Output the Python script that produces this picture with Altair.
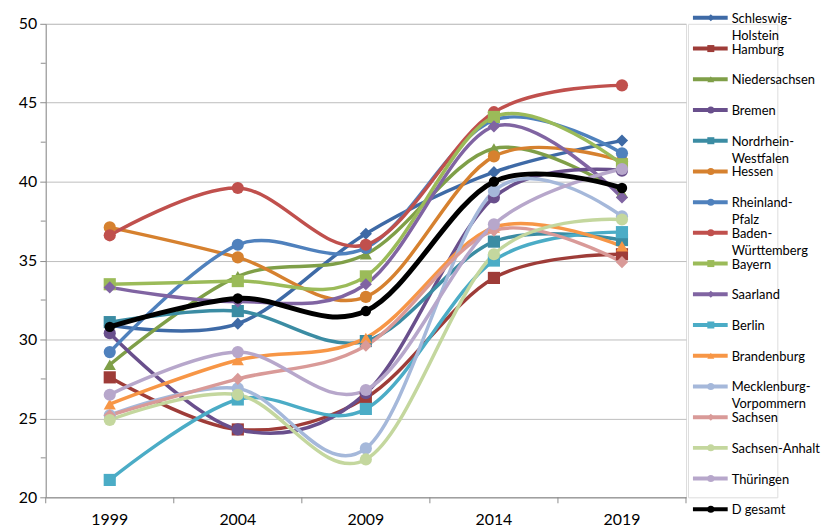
import altair as alt
import pandas as pd

years = ["1999", "2004", "2009", "2014", "2019"]

states = ["Schleswig-Holstein", "Hamburg", "Niedersachsen", "Bremen",
          "Nordrhein-Westfalen", "Hessen", "Rheinland-Pfalz", "Baden-Württemberg",
          "Bayern", "Saarland", "Berlin", "Brandenburg", "Mecklenburg-Vorpommern",
          "Sachsen", "Sachsen-Anhalt", "Thüringen", "D gesamt"]

legend_labels = ["Schleswig-\nHolstein", "Hamburg", "Niedersachsen", "Bremen",
                 "Nordrhein-\nWestfalen", "Hessen", "Rheinland-\nPfalz", "Baden-\nWürttemberg",
                 "Bayern", "Saarland", "Berlin", "Brandenburg", "Mecklenburg-\nVorpommern",
                 "Sachsen", "Sachsen-Anhalt", "Thüringen", "D gesamt"]

sh = [30.9, 31.0, 36.7, 40.6, 42.6]
hh = [27.6, 24.3, 26.3, 33.9, 35.4]
ni = [28.4, 34.0, 35.4, 42.1, 39.3]
hb = [30.4, 24.3, 26.6, 39.0, 40.7]
nw = [31.1, 31.8, 29.9, 36.2, 36.3]
he = [37.1, 35.2, 32.7, 41.6, 41.3]
rp = [29.2, 36.0, 35.8, 43.9, 41.8]
bw = [36.6, 39.6, 36.0, 44.4, 46.1]
by = [33.5, 33.7, 34.0, 44.1, 41.1]
sl = [33.3, 32.4, 33.5, 43.5, 39.0]
be = [21.1, 26.2, 25.6, 35.0, 36.8]
bb = [25.9, 28.7, 30.1, 37.1, 35.9]
mv = [25.2, 26.9, 23.1, 39.4, 37.8]
sn = [25.2, 27.5, 29.6, 36.9, 34.9]
st = [24.9, 26.5, 22.4, 35.4, 37.6]
th = [26.5, 29.2, 26.8, 37.3, 40.8]
de = [30.8, 32.6, 31.8, 40.0, 39.6]

series = [sh, hh, ni, hb, nw, he, rp, bw, by, sl, be, bb, mv, sn, st, th, de]

colors = ["#3E6AA6", "#9E3C38", "#7F9F48", "#694F8C", "#3B8CA3", "#D6812F",
          "#4F81BD", "#C0504D", "#9BBB59", "#8064A2", "#4BACC6", "#F79646",
          "#A5B8DA", "#D99A98", "#C4D79E", "#B7A7CB", "#000000"]

shapes = ["diamond", "square", "triangle-up", "circle", "square", "circle",
          "circle", "circle", "square", "diamond", "square", "triangle-up",
          "circle", "diamond", "circle", "circle", "circle"]

y_ticks = [20, 25, 30, 35, 40, 45, 50]
y_minor = [22.5, 27.5, 32.5, 37.5, 42.5, 47.5]

rows = []
for i, (s, vals) in enumerate(zip(states, series)):
    for y, v in zip(years, vals):
        rows.append({"state": s, "year": y, "value": v, "order": i})
df = pd.DataFrame(rows)

FONT = "Lato"
W, H = 645, 477

color_scale = alt.Scale(domain=states, range=colors)
shape_scale = alt.Scale(domain=states, range=shapes)

x_axis = alt.Axis(title=None, labelAngle=0, ticks=False, domainColor="#8C8C8C",
                  labelFontSize=16, labelFont=FONT, labelColor="#000000",
                  labelPadding=14, grid=False)
x_scale = alt.Scale(type="band", paddingInner=0, paddingOuter=0, domain=years)
x_enc = alt.X("year:O", scale=x_scale, axis=x_axis)

y_axis = alt.Axis(title=None, values=y_ticks, grid=True, gridColor="#BDBDBD",
                  domainColor="#8C8C8C", tickColor="#8C8C8C", tickSize=6,
                  labelPadding=3, labelFontSize=16, labelFont=FONT,
                  labelColor="#000000")
y_scale = alt.Scale(domain=[20, 50], nice=False, zero=False)
y_enc = alt.Y("value:Q", scale=y_scale, axis=y_axis)

base = alt.Chart(df)

state_lines = base.transform_filter(alt.datum.state != "D gesamt").mark_line(
    interpolate="cardinal", strokeWidth=3.5).encode(
    x=x_enc, y=y_enc,
    color=alt.Color("state:N", scale=color_scale, legend=None),
    detail="state:N", order="order:Q")

state_points = base.transform_filter(alt.datum.state != "D gesamt").mark_point(
    filled=True, size=150, opacity=1).encode(
    x=x_enc, y=y_enc,
    color=alt.Color("state:N", scale=color_scale, legend=None),
    shape=alt.Shape("state:N", scale=shape_scale, legend=None))

d_line = base.transform_filter(alt.datum.state == "D gesamt").mark_line(
    interpolate="cardinal", strokeWidth=5, color="#000000").encode(x=x_enc, y=y_enc)
d_points = base.transform_filter(alt.datum.state == "D gesamt").mark_point(
    filled=True, size=110, opacity=1, shape="circle", color="#000000").encode(x=x_enc, y=y_enc)

# x tick marks at band edges
tick_df = pd.DataFrame({"year": years})
x_ticks = alt.Chart(tick_df).mark_rule(color="#8C8C8C", strokeWidth=1).encode(
    x=alt.X("year:O", scale=x_scale, axis=x_axis, bandPosition=0),
    y=alt.value(H), y2=alt.value(H + 6))
x_last_tick = alt.Chart(tick_df.head(1)).mark_rule(color="#8C8C8C", strokeWidth=1).encode(
    x=alt.value(W), y=alt.value(H), y2=alt.value(H + 6))

# minor y ticks
minor_df = pd.DataFrame({"value": y_minor})
y_minor_ticks = alt.Chart(minor_df).mark_rule(color="#8C8C8C", strokeWidth=1).encode(
    y=alt.Y("value:Q", scale=y_scale, axis=y_axis),
    x=alt.value(-5), x2=alt.value(0))

main = alt.layer(state_lines, state_points, d_line, d_points, x_ticks, x_last_tick,
                 y_minor_ticks).properties(width=W, height=H)

# custom legend
leg_df = pd.DataFrame({"state": states, "label": legend_labels, "idx": list(range(len(states)))})
ly = alt.Y("idx:Q", scale=alt.Scale(domain=[0.194, 15.61], reverse=True, nice=False, zero=False),
           axis=None)
leg_base = alt.Chart(leg_df)
leg_line = leg_base.mark_rule().encode(
    x=alt.value(5), x2=alt.value(40), y=ly,
    color=alt.Color("state:N", scale=color_scale, legend=None),
    strokeWidth=alt.StrokeWidth("state:N", scale=alt.Scale(domain=states, range=[4] * 16 + [6]),
                                legend=None))
leg_pts = leg_base.mark_point(filled=True, size=50, opacity=1).encode(
    x=alt.value(23), y=ly,
    color=alt.Color("state:N", scale=color_scale, legend=None),
    shape=alt.Shape("state:N", scale=shape_scale, legend=None))
leg_txt = leg_base.mark_text(align="left", baseline="alphabetic", dy=5, lineBreak="\n",
                             lineHeight=17, font=FONT, fontSize=13, color="#000000").encode(
    x=alt.value(44), y=ly, text="label:N")
legend = alt.layer(leg_line, leg_pts, leg_txt).properties(width=90, height=H)

chart = alt.hconcat(main, legend, spacing=0).resolve_scale(
    color="shared", shape="shared").properties(
    padding={"left": 9, "top": 2, "right": 0, "bottom": 0}
).configure_view(stroke=None).configure(font=FONT)

chart.save("out.html", embed_options={"renderer": "svg", "actions": False})
